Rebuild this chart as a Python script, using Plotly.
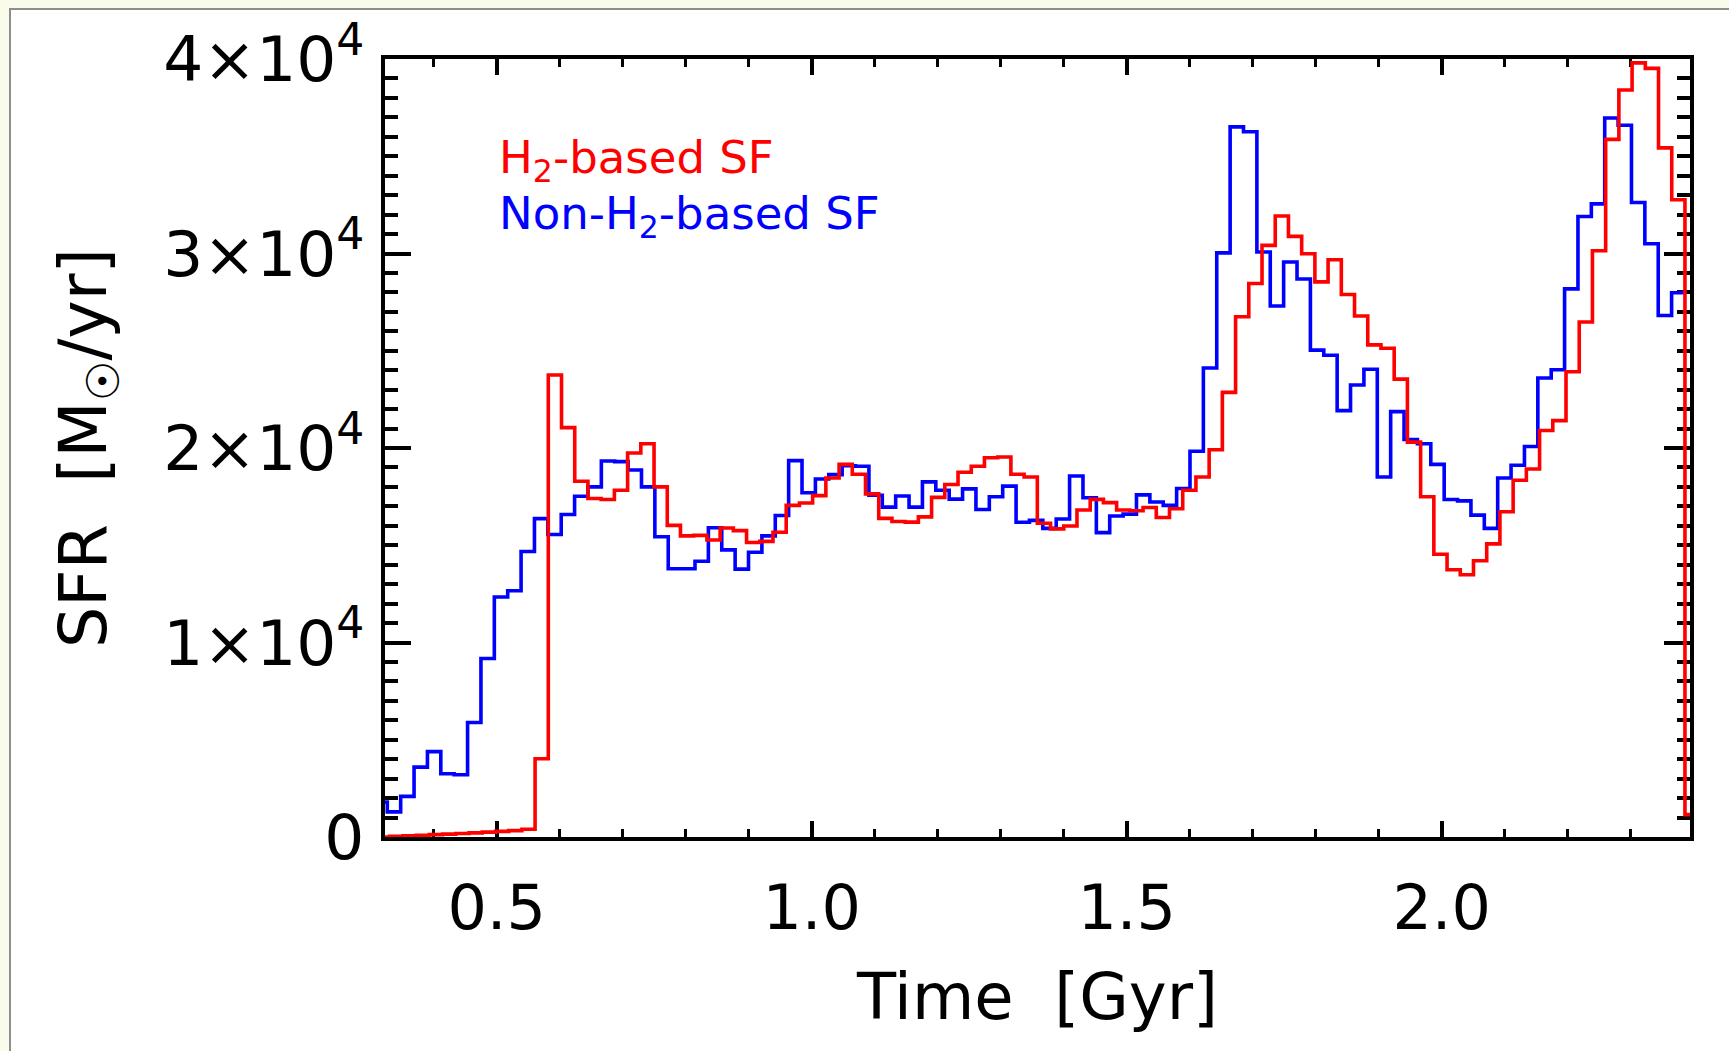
import numpy as np
import plotly.graph_objects as go

# Star-formation-rate histories (M_sun/yr), one value per time bin.
# Each run has its own uniform bin grid: first bin edge and bin width in Gyr.
h2_t_first_edge = 0.309181
h2_bin_width = 0.020979
h2_sfr = [
    0, 30, 60, 90, 120, 150, 180, 210, 250, 290,
    330, 400, 4020, 23750, 21050, 18290, 17400, 17350, 17830, 19740,
    20220, 18000, 16020, 15480, 15510, 15270, 15890, 15750, 15140, 15200,
    15670, 17050, 17170, 17550, 18460, 19160, 18650, 17640, 16380, 16220,
    16190, 16460, 17460, 18120, 18750, 19060, 19500, 19540, 18650, 18510,
    16130, 15840, 15990, 16810, 17360, 17190, 16810, 16770, 16940, 16430,
    16880, 17830, 18510, 19910, 22860, 26750, 28460, 30420, 31930, 30880,
    29990, 28540, 29680, 27890, 26790, 25300, 25130, 23540, 20300, 17490,
    14540, 13740, 13480, 14200, 15070, 16720, 18340, 18920, 20900, 21410,
    23920, 26480, 30140, 35870, 38410, 39800, 39520, 35430, 32760, 1150,
]

nonh2_t_first_edge = 0.305115
nonh2_bin_width = 0.021235
nonh2_sfr = [
    1800, 1290, 2090, 3590, 4390, 3250, 3200, 5890, 9180, 12340,
    12660, 14680, 16370, 15550, 16580, 17520, 18000, 19330, 19300, 18870,
    18000, 15440, 13790, 13790, 14180, 15900, 14760, 13770, 14640, 15480,
    16530, 19350, 17700, 18410, 18630, 19090, 19060, 17570, 16960, 17530,
    16960, 18260, 17830, 17370, 17900, 16840, 17490, 18040, 16180, 16280,
    15870, 16350, 18560, 17440, 15650, 16500, 16600, 17590, 17220, 17050,
    17920, 19830, 24110, 30030, 36510, 36260, 30080, 27300, 29560, 28690,
    25030, 24770, 21920, 23240, 24050, 18510, 21870, 20440, 20220, 19160,
    17350, 17280, 16550, 15870, 18460, 19110, 20080, 23600, 24020, 28180,
    31900, 32550, 36970, 36590, 32620, 30500, 26810, 27980,
]

series_names = ["Non-H<sub>2</sub>-based SF", "H<sub>2</sub>-based SF"]
series_colors = ["#0000FF", "#FF0000"]

y_tickvals = [0, 10000, 20000, 30000, 40000]
y_ticktext = ["0", "1×10<sup>4</sup>", "2×10<sup>4</sup>", "3×10<sup>4</sup>", "4×10<sup>4</sup>"]
x_range = [0.3227, 2.3941]
y_range = [0, 40000]


def step_xy(first_edge, width, values):
    """Left bin edges plus the closing right edge, for an 'hv' step line."""
    n = len(values)
    edges = first_edge + width * np.arange(n + 1)
    return edges, list(values) + [values[-1]]


FONT = "DejaVu Sans"
W, H = 1729, 1051
ML, MR, MT, MB = 385, 39, 59, 214
PW, PH = W - ML - MR, H - MT - MB

fig = go.Figure()
for (t0, dt, vals), name, color in zip(
    [(nonh2_t_first_edge, nonh2_bin_width, nonh2_sfr),
     (h2_t_first_edge, h2_bin_width, h2_sfr)],
    series_names, series_colors,
):
    xs, ys = step_xy(t0, dt, vals)
    fig.add_trace(go.Scatter(
        x=xs, y=ys, mode="lines", name=name, showlegend=False,
        line=dict(color=color, width=3.6, shape="hv"),
    ))

# Coloured text labels in the upper-left corner of the panel
fig.add_annotation(x=0.5, y=34800, xref="x", yref="y", xanchor="left", yanchor="middle",
                   text=series_names[1], showarrow=False,
                   font=dict(family=FONT, size=45, color=series_colors[1]))
fig.add_annotation(x=0.5, y=31950, xref="x", yref="y", xanchor="left", yanchor="middle",
                   text=series_names[0], showarrow=False,
                   font=dict(family=FONT, size=45, color=series_colors[0]))


def px_x(px):
    return (px - ML) / PW


def px_y(py):
    return (MT + PH - py) / PH


# Page frame around the figure
fig.add_shape(type="rect", xref="paper", yref="paper", layer="below",
              x0=px_x(10), x1=px_x(W + 20), y0=px_y(H + 20), y1=px_y(9),
              fillcolor="white", line=dict(color="#8E8E8E", width=2))

axis_common = dict(
    showline=True, linecolor="black", linewidth=4, mirror="ticks",
    ticks="inside", tickcolor="black", tickwidth=4,
    showgrid=False, zeroline=False, layer="below traces",
)

fig.update_xaxes(
    **axis_common, range=x_range, tick0=0.5, dtick=0.5, tickformat=".1f",
    ticklen=16, ticklabelstandoff=14,
    tickfont=dict(family=FONT, size=62, color="black"),
    minor=dict(ticks="inside", dtick=0.1, tick0=0, ticklen=8, tickwidth=3, tickcolor="black"),
    title=dict(text="Time  [Gyr]", font=dict(family=FONT, size=64, color="black"), standoff=32),
)
fig.update_yaxes(
    **axis_common, range=y_range, tickvals=y_tickvals, ticktext=y_ticktext,
    ticklen=26, ticklabelstandoff=4,
    tickfont=dict(family=FONT, size=63, color="black"),
    minor=dict(ticks="inside", dtick=1000, tick0=0, ticklen=13, tickwidth=3.5, tickcolor="black"),
    title=dict(text="SFR  [M<sub>☉</sub>/yr]", font=dict(family=FONT, size=65, color="black"), standoff=37),
)

fig.update_layout(
    width=W, height=H, autosize=False,
    margin=dict(l=ML, r=MR, t=MT, b=MB, pad=0),
    paper_bgcolor="#FBFBEC", plot_bgcolor="white",
    font=dict(family=FONT),
)

fig.write_html("out.html")
